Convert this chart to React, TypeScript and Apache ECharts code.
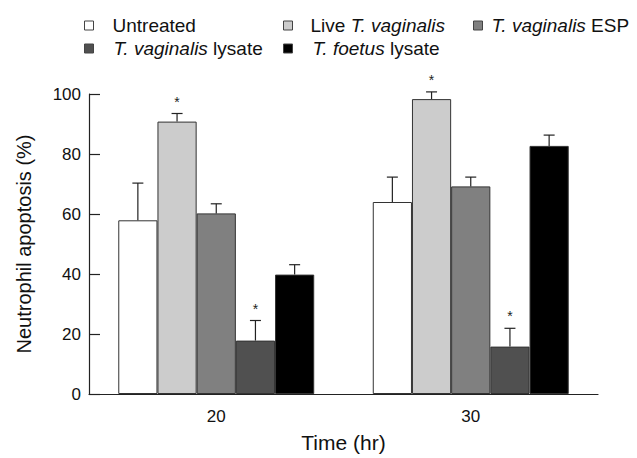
import React, { useEffect, useRef } from "react";
import * as echarts from "echarts";

const categories = ["20", "30"];
const seriesNames = [
  "Untreated",
  "Live T. vaginalis",
  "T. vaginalis ESP",
  "T. vaginalis lysate",
  "T. foetus lysate",
];
const untreated = [57.9, 64.0];
const liveTv = [90.8, 98.3];
const tvEsp = [60.2, 69.2];
const tvLysate = [17.8, 15.8];
const tfLysate = [39.8, 82.7];
const untreatedErr = [12.4, 8.3];
const liveTvErr = [2.7, 2.4];
const tvEspErr = [3.2, 3.1];
const tvLysateErr = [6.7, 6.1];
const tfLysateErr = [3.3, 3.6];
const liveTvStar = [true, true];
const tvLysateStar = [true, true];
const noStar = [false, false];
const yTicks = [0, 20, 40, 60, 80, 100];

const FONT = "'Liberation Sans', Arial, Helvetica, sans-serif";
const colors = ["#ffffff", "#cccccc", "#808080", "#505050", "#000000"];

const allValues = [untreated, liveTv, tvEsp, tvLysate, tfLysate];
const allErrs = [untreatedErr, liveTvErr, tvEspErr, tvLysateErr, tfLysateErr];
const allStars = [noStar, liveTvStar, noStar, tvLysateStar, noStar];

const legendFormat: Record<string, string> = {
  "Untreated": "Untreated",
  "Live T. vaginalis": "Live {i|T. vaginalis}",
  "T. vaginalis ESP": "{i|T. vaginalis} ESP",
  "T. vaginalis lysate": "{i|T. vaginalis} lysate",
  "T. foetus lysate": "{i|T. foetus} lysate",
};
const legendPos = [
  { left: 84, top: 16, pad: 14 },
  { left: 283, top: 16, pad: 13 },
  { left: 473, top: 16, pad: 4 },
  { left: 84, top: 39, pad: 15 },
  { left: 283, top: 39, pad: 15 },
];

const CAT_GAP = 0.23;

export default function App() {
  const ref = useRef<HTMLDivElement>(null);
  useEffect(() => {
    document.body.style.margin = "0";
    const chart = echarts.init(ref.current!, null, { renderer: "svg" });

    const errData: any[] = [];
    allValues.forEach((vals, si) => {
      vals.forEach((v, ci) => {
        errData.push([ci, si, v, allErrs[si][ci], allStars[si][ci] ? 1 : 0]);
      });
    });

    const option: any = {
      animation: false,
      backgroundColor: "#ffffff",
      textStyle: { fontFamily: FONT },
      legend: seriesNames.map((n, i) => ({
        data: [n],
        left: legendPos[i].left,
        top: legendPos[i].top,
        padding: 0,
        itemWidth: 9,
        itemHeight: 9,
        icon: "rect",
        itemStyle: { borderColor: "#444", borderWidth: 1 },
        selectedMode: false,
        formatter: (name: string) => "{g| }" + legendFormat[name],
        textStyle: {
          fontFamily: FONT,
          fontSize: 19,
          color: "#111",
          rich: {
            g: { width: legendPos[i].pad, fontSize: 19 },
            i: { fontFamily: FONT, fontSize: 19, fontStyle: "italic", color: "#111" },
          },
        },
      })),
      grid: { left: 89, right: 39, top: 94, bottom: 63 },
      xAxis: {
        type: "category",
        data: categories,
        name: "Time (hr)",
        nameLocation: "middle",
        nameGap: 38,
        nameTextStyle: { fontFamily: FONT, fontSize: 21, color: "#111" },
        axisLine: { lineStyle: { color: "#222", width: 1.2 } },
        axisTick: { inside: true, length: 10, lineStyle: { color: "#222", width: 1.2 } },
        axisLabel: { fontFamily: FONT, fontSize: 17, color: "#111", margin: 14 },
      },
      yAxis: {
        type: "value",
        min: yTicks[0],
        max: yTicks[yTicks.length - 1],
        interval: yTicks[1] - yTicks[0],
        name: "Neutrophil apoptosis (%)",
        nameLocation: "middle",
        nameGap: 55,
        nameTextStyle: { fontFamily: FONT, fontSize: 20, color: "#111" },
        axisLine: { show: true, lineStyle: { color: "#222", width: 1.2 } },
        axisTick: { show: true, inside: true, length: 11, lineStyle: { color: "#222", width: 1.2 } },
        axisLabel: { fontFamily: FONT, fontSize: 17, color: "#111", margin: 8 },
        splitLine: { show: false },
      },
      series: [
        ...seriesNames.map((n, si) => ({
          name: n,
          type: "bar",
          data: allValues[si],
          barGap: "0%",
          barCategoryGap: CAT_GAP * 100 + "%",
          itemStyle: { color: colors[si], borderColor: "#333", borderWidth: 1 },
        })),
        {
          type: "custom",
          name: "errors",
          data: errData,
          clip: false,
          z: 10,
          renderItem: (params: any, api: any) => {
            const ci = api.value(0);
            const si = api.value(1);
            const v = api.value(2);
            const e = api.value(3);
            const star = api.value(4);
            const catW = api.size([1, 0])[0];
            const groupW = catW * (1 - CAT_GAP);
            const w = groupW / 5;
            const base = api.coord([ci, v]);
            const topP = api.coord([ci, v + e]);
            const cx = base[0] - groupW / 2 + w * (si + 0.5);
            const children: any[] = [
              {
                type: "line",
                shape: { x1: cx, y1: base[1], x2: cx, y2: topP[1] },
                style: { stroke: "#222", lineWidth: 1.2 },
              },
              {
                type: "line",
                shape: { x1: cx - 5.5, y1: topP[1], x2: cx + 5.5, y2: topP[1] },
                style: { stroke: "#222", lineWidth: 1.2 },
              },
            ];
            if (star) {
              children.push({
                type: "text",
                style: {
                  text: "*",
                  x: cx,
                  y: topP[1] - 5,
                  align: "center",
                  verticalAlign: "bottom",
                  fontSize: 14,
                  fontFamily: FONT,
                  fill: "#222",
                },
              });
            }
            return { type: "group", children };
          },
        },
      ],
    };
    chart.setOption(option);
    return () => chart.dispose();
  }, []);
  return <div ref={ref} style={{ width: 637, height: 458 }} />;
}
